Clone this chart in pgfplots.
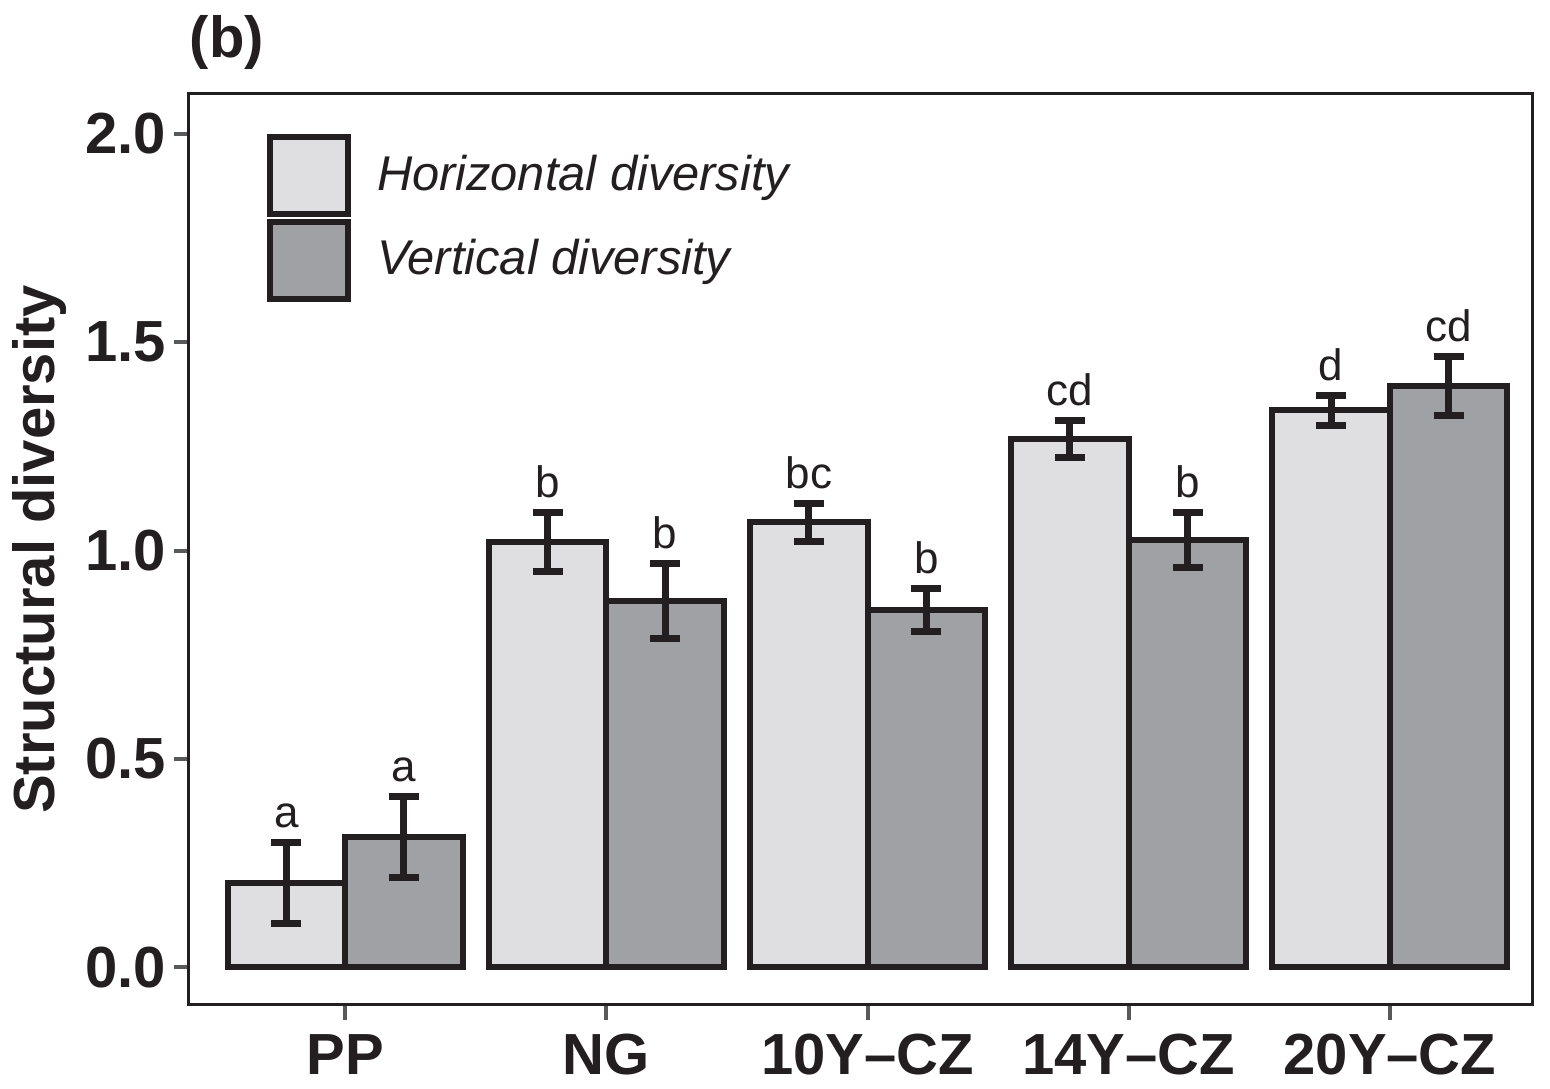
\documentclass[border=0pt]{standalone}
\usepackage{pgfplots}
\pgfplotsset{compat=1.18}
\usepackage{pgfplotstable}
\usepackage{fontspec}
\setmainfont{Liberation Sans}
\definecolor{lightg}{HTML}{DFDFE1}
\definecolor{darkg}{HTML}{A0A1A4}
\definecolor{edge}{HTML}{231F20}
\definecolor{tickc}{HTML}{58595B}

\pgfplotstableread{
x      y      err
-0.225 0.202  0.098
0.775  1.020  0.071
1.775  1.068  0.046
2.775  1.268  0.045
3.775  1.337  0.036
}\horiz
\pgfplotstableread{
x      y      err
0.225  0.312  0.098
1.225  0.879  0.090
2.225  0.857  0.052
3.225  1.025  0.066
4.225  1.395  0.071
}\vert

\begin{document}
\begin{tikzpicture}
\useasboundingbox (-47.25pt,-21pt) rectangle (340.25pt,251.25pt);
\begin{axis}[
  scale only axis,
  width=335.75pt, height=227.75pt,
  xmin=-0.598, xmax=4.544,
  ymin=-0.091, ymax=2.096,
  xtick={0,1,2,3,4},
  xticklabels={PP,NG,10Y\textendash CZ,14Y\textendash CZ,20Y\textendash CZ},
  ytick={0,0.5,1,1.5,2},
  yticklabel style={xshift=1.5pt, /pgf/number format/.cd,fixed,fixed zerofill,precision=1},
  /pgf/number format/assume math mode=true,
  tick label style={font=\fontsize{14.5}{16}\selectfont\bfseries, text=edge},
  xtick pos=bottom, ytick pos=left,
  tick align=outside,
  major tick length=3.75pt,
  tick style={line width=1pt, color=tickc},
  axis line style={line width=0.75pt, draw=edge},
  ylabel={Structural diversity},
  ylabel style={font=\fontsize{14.5}{16}\selectfont\bfseries, text=edge, at={(axis description cs:-0.111,0.5)}, anchor=center},
  clip=false,
  legend style={draw=none, fill=none, at={(rel axis cs:0.0575,0.957)}, anchor=north west,
    inner sep=0pt, row sep=0.5pt, font=\fontsize{12.2}{14}\selectfont\itshape, text=edge,
    nodes={inner sep=0pt}},
  legend cell align=left,
  legend image code/.code={\draw[#1, line width=1.5pt, draw=edge] (0pt,-9.6pt) rectangle (19.5pt,9.6pt);},
]
\addplot[ybar, bar width=0.45, bar shift=0pt, fill=lightg, draw=edge, line width=1.5pt,
  error bars/.cd, y dir=both, y explicit,
  error bar style={line width=1.75pt, draw=edge},
  error mark options={line width=1.75pt, mark size=3.75pt, draw=edge, rotate=90}]
  table[x=x, y=y, y error=err] {\horiz};
\addlegendentry{\hspace{6.5pt}Horizontal diversity}
\addplot[ybar, bar width=0.45, bar shift=0pt, fill=darkg, draw=edge, line width=1.5pt,
  error bars/.cd, y dir=both, y explicit,
  error bar style={line width=1.75pt, draw=edge},
  error mark options={line width=1.75pt, mark size=3.75pt, draw=edge, rotate=90}]
  table[x=x, y=y, y error=err] {\vert};
\addlegendentry{\hspace{6.5pt}Vertical diversity}

\begin{scope}[every node/.style={anchor=base, inner sep=0pt, yshift=3.75pt, font=\fontsize{11}{13}\selectfont, text=edge}]
\node at (axis cs:-0.225,0.300) {a};
\node at (axis cs:0.225,0.410) {a};
\node at (axis cs:0.775,1.091) {b};
\node at (axis cs:1.225,0.969) {b};
\node at (axis cs:1.775,1.114) {bc};
\node at (axis cs:2.225,0.909) {b};
\node at (axis cs:2.775,1.313) {cd};
\node at (axis cs:3.225,1.091) {b};
\node at (axis cs:3.775,1.373) {d};
\node at (axis cs:4.225,1.466) {cd};
\end{scope}
\node[anchor=west, inner sep=0pt, font=\fontsize{14.5}{16}\selectfont\bfseries, text=edge] at (rel axis cs:0.0,1.057) {(b)};
\end{axis}
\end{tikzpicture}
\end{document}
